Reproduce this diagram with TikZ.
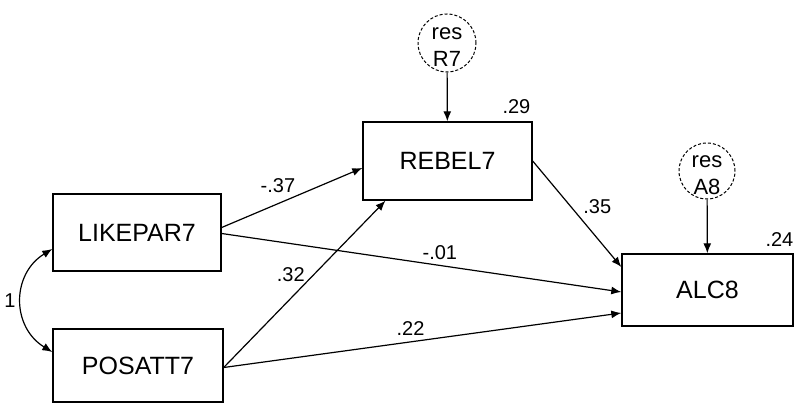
\documentclass[tikz,border=0pt]{standalone}
\usepackage{fontspec}
\setmainfont{Liberation Sans}
\usetikzlibrary{arrows.meta}
\begin{document}
\begin{tikzpicture}[x=0.5pt, y=-0.5pt,
  var/.style={draw, line width=0.7pt, inner sep=0pt, font=\fontsize{12.5}{14}\selectfont},
  res/.style={draw, circle, dashed, dash pattern=on 1.5pt off 1pt, line width=0.5pt, inner sep=0pt},
  restxt/.style={align=center, font=\fontsize{11}{13.5}\selectfont, yshift=-2pt},
  wt/.style={font=\fontsize{10}{12}\selectfont, inner sep=1pt},
  path/.style={line width=0.6pt, -{Latex[length=5pt,width=4pt]}}]
  \useasboundingbox (0,0) rectangle (799,406);
  \node[var, minimum width=84pt, minimum height=38.5pt] (lp) at (137,232.5) {LIKEPAR7};
  \node[var, minimum width=85pt, minimum height=36.5pt] (pa) at (138,365.5) {POSATT7};
  \node[var, minimum width=84.5pt, minimum height=39pt] (rb) at (447.5,161) {REBEL7};
  \node[var, minimum width=85.5pt, minimum height=36pt] (al) at (707.5,290) {ALC8};
  \node[res, minimum size=29pt, label={[restxt]center:res\\R7}] (rR) at (447,43) {};
  \node[res, minimum size=28pt, label={[restxt]center:res\\A8}] (rA) at (707,171) {};
  \node[wt, anchor=south east] (r2R) at ([yshift=2.5pt]rb.north east) {.29};
  \node[wt, anchor=south east] (r2A) at ([xshift=1pt,yshift=2pt]al.north east) {.24};
  % residuals
  \draw[path] (rR) -- (rb);
  \draw[path] (rA) -- (al);
  % paths
  \draw[path] ([yshift=2.5pt]lp.east) -- node[wt, pos=0.4, above=4pt] {-.37} ([yshift=-3.5pt]rb.west);
  \draw[path] ([yshift=-0.5pt]lp.east) -- node[wt, pos=0.546, above=1.5pt] {-.01} ([yshift=-1pt]al.west);
  \draw[path] ([yshift=-1pt]pa.east) -- node[wt, pos=0.554, left=3pt] {.32} ([xshift=-31pt]rb.south);
  \draw[path] ([yshift=-1pt]pa.east) -- node[wt, pos=0.47, above=2pt] {.22} ([yshift=-11.5pt]al.west);
  \draw[path] (rb.east) -- node[wt, pos=0.43, right=5pt] {.35} ([yshift=11.5pt]al.west);
  % covariance
  \draw[line width=0.6pt, {Latex[length=5pt,width=4pt]}-{Latex[length=5pt,width=4pt]}]
    ([yshift=-8.25pt]lp.west) .. controls +(-41,25) and +(-41,-25) .. node[wt, pos=0.5, left=1.7pt] {1} ([yshift=6.75pt]pa.west);
\end{tikzpicture}
\end{document}
